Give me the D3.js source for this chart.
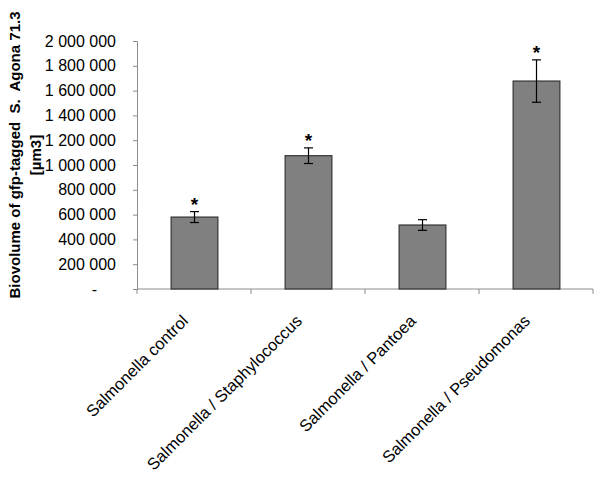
<!DOCTYPE html>
<html><head><meta charset="utf-8">
<script src="https://cdn.jsdelivr.net/npm/d3@7"></script>
<style>body{margin:0;background:#fff}svg{display:block}text{font-family:"Liberation Sans",Arial,sans-serif}</style>
</head><body>
<svg id="c" width="600" height="478"></svg>
<script>
const categories = ["Salmonella control", "Salmonella / Staphylococcus", "Salmonella / Pantoea", "Salmonella / Pseudomonas"];
const values = [580000, 1075000, 516000, 1677000];
const errors = [44000, 63000, 43000, 171000];
const significant = [true, true, false, true];
const yTicks = [0, 200000, 400000, 600000, 800000, 1000000, 1200000, 1400000, 1600000, 1800000, 2000000];
const yTitle = ["Biovolume of gfp-tagged  S.  Agona 71.3", "[µm3]"];

const svg = d3.select("#c");
const m = {left: 137, right: 593, top: 41, bottom: 289};
const x = d3.scaleBand().domain(categories).range([m.left, m.right]).paddingInner(0.59).paddingOuter(0.295);
const xb = d3.scaleBand().domain(categories).range([m.left, m.right]);
const y = d3.scaleLinear().domain([0, 2000000]).range([m.bottom, m.top]);
const grey = "#8c8c8c";

// y axis
const fmt = v => v === 0 ? "-" : d3.format(",")(v).replace(/,/g, " ");
const yAxis = svg.append("g").attr("transform", `translate(${m.left},0)`)
  .call(d3.axisLeft(y).tickValues(yTicks).tickFormat(fmt).tickSize(4).tickPadding(17));
yAxis.select(".domain").attr("stroke", grey);
yAxis.selectAll(".tick line").attr("stroke", grey);
yAxis.selectAll(".tick text").attr("font-size", 16).attr("fill", "#000")
  .attr("font-family", '"Liberation Sans",Arial,sans-serif')
  .attr("dx", d => d === 0 ? -19 : 0);

// x axis
const xAxisG = svg.append("g").attr("transform", `translate(0,${m.bottom})`);
xAxisG.append("line").attr("x1", m.left).attr("x2", m.right).attr("stroke", grey);
const bounds = [xb(categories[0])].concat(categories.map(d => xb(d) + xb.bandwidth()));
xAxisG.selectAll("line.t").data(bounds).enter().append("line").attr("class", "t")
  .attr("x1", d => d).attr("x2", d => d)
  .attr("y1", 0).attr("y2", 5).attr("stroke", grey);
xAxisG.selectAll("text").data(categories).enter().append("text")
  .attr("transform", d => `translate(${xb(d) + xb.bandwidth() / 2 - 5},33) rotate(-45)`)
  .attr("text-anchor", "end").attr("font-size", 16.5).text(d => d);

// bars
const data = categories.map((c, i) => ({c, v: values[i], e: errors[i], s: significant[i]}));
svg.selectAll("rect.bar").data(data).enter().append("rect").attr("class", "bar")
  .attr("x", d => x(d.c) + 0.5).attr("width", x.bandwidth())
  .attr("y", d => y(d.v)).attr("height", d => y(0) - y(d.v))
  .attr("fill", "#808080").attr("stroke", "#333").attr("stroke-width", 1.2);

// error bars
const eg = svg.selectAll("g.err").data(data).enter().append("g").attr("class", "err");
const cx = d => x(d.c) + x.bandwidth() / 2 + 0.5;
eg.append("line").attr("x1", cx).attr("x2", cx).attr("y1", d => y(d.v + d.e)).attr("y2", d => y(d.v - d.e)).attr("stroke", "#000").attr("stroke-width", 1.2);
eg.append("line").attr("x1", d => cx(d) - 4.5).attr("x2", d => cx(d) + 4.5).attr("y1", d => y(d.v + d.e)).attr("y2", d => y(d.v + d.e)).attr("stroke", "#000").attr("stroke-width", 1.2);
eg.append("line").attr("x1", d => cx(d) - 4.5).attr("x2", d => cx(d) + 4.5).attr("y1", d => y(d.v - d.e)).attr("y2", d => y(d.v - d.e)).attr("stroke", "#000").attr("stroke-width", 1.2);

// asterisks
svg.selectAll("text.star").data(data.filter(d => d.s)).enter().append("text").attr("class", "star")
  .attr("x", cx).attr("y", d => y(d.v + d.e) - 1)
  .attr("text-anchor", "middle").attr("font-size", 19).attr("font-weight", "bold").text("*");

// y title
const yt = svg.append("text").attr("transform", "translate(0,155) rotate(-90)")
  .attr("text-anchor", "middle").attr("font-weight", "bold").attr("font-size", 15)
  .attr("xml:space", "preserve").style("white-space", "pre");
yt.append("tspan").attr("x", 0).attr("y", 20).text(yTitle[0]);
yt.append("tspan").attr("x", 0).attr("y", 41).text(yTitle[1]);
</script>
</body></html>
